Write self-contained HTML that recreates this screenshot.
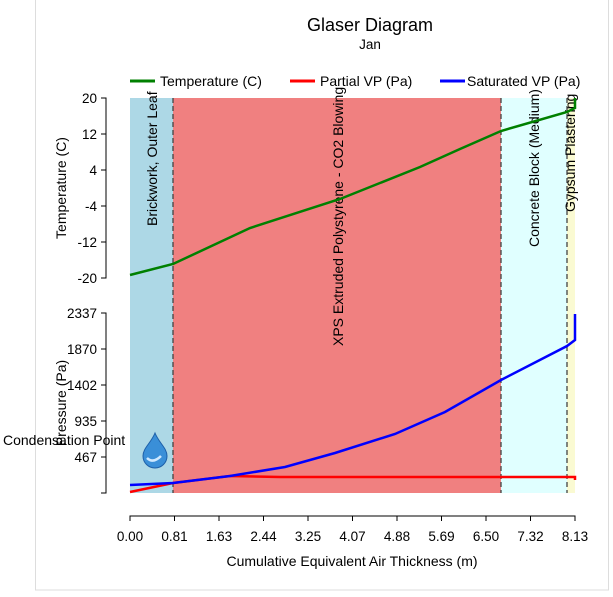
<!DOCTYPE html>
<html><head><meta charset="utf-8"><style>
body{margin:0;background:#fff}
text{font-family:"Liberation Sans",sans-serif;font-size:13.5px;fill:#000}
</style></head><body>
<svg width="613" height="592" xmlns="http://www.w3.org/2000/svg">
<rect x="35.5" y="-1" width="573" height="591" fill="#fff" stroke="#ddd"/>
<text x="370" y="31" text-anchor="middle" style="font-size:18px">Glaser Diagram</text>
<text x="370" y="49" text-anchor="middle">Jan</text>
<line x1="130" y1="81" x2="155" y2="81" stroke="#008000" stroke-width="3"/>
<text x="160" y="86" style="font-size:14px">Temperature (C)</text>
<line x1="290" y1="81" x2="315" y2="81" stroke="#f00" stroke-width="3"/>
<text x="320" y="86" style="font-size:14px">Partial VP (Pa)</text>
<line x1="440" y1="81" x2="465" y2="81" stroke="#00f" stroke-width="3"/>
<text x="467" y="86" style="font-size:14px">Saturated VP (Pa)</text>
<!-- layers -->
<rect x="130" y="98" width="43" height="395" fill="#ADD8E6"/>
<rect x="173" y="98" width="328" height="395" fill="#F08080"/>
<rect x="501" y="98" width="66" height="395" fill="#E0FFFF"/>
<rect x="567" y="98" width="8" height="395" fill="#FAFAD2"/>
<g stroke="#444" stroke-dasharray="5,3" stroke-width="1.3">
<line x1="173" y1="98" x2="173" y2="493"/><line x1="501" y1="98" x2="501" y2="493"/><line x1="567" y1="98" x2="567" y2="493"/>
</g>
<g style="font-size:14px">
<text transform="translate(157,226) rotate(-90)" style="font-size:14px">Brickwork, Outer Leaf</text>
<text transform="translate(343,346) rotate(-90)" style="font-size:14px">XPS Extruded Polystyrene - CO2 Blowing</text>
<text transform="translate(539,247) rotate(-90)" style="font-size:14px">Concrete Block (Medium)</text>
<text transform="translate(575,212) rotate(-90)" style="font-size:14px">Gypsum Plastering</text>
</g>
<!-- axes -->
<g stroke="#000" fill="none">
<path d="M101 98H106V278H101M101 134H106M101 170H106M101 206H106M101 242H106"/>
<path d="M101 313H106V493H101M101 349H106M101 385H106M101 421H106M101 457H106"/>
<path d="M130 521V516H575V521"/>
<path d="M174.5 516v5M219 516v5M263.5 516v5M308 516v5M352.5 516v5M397 516v5M441.5 516v5M486 516v5M530.5 516v5"/>
</g>
<g text-anchor="end">
<text x="97" y="103">20</text><text x="97" y="139">12</text><text x="97" y="175">4</text><text x="97" y="211">-4</text><text x="97" y="247">-12</text><text x="97" y="283">-20</text>
<text x="97" y="318">2337</text><text x="97" y="354">1870</text><text x="97" y="390">1402</text><text x="97" y="426">935</text><text x="97" y="462">467</text>
</g>
<g text-anchor="middle">
<text x="130" y="541">0.00</text><text x="174.5" y="541">0.81</text><text x="219" y="541">1.63</text><text x="263.5" y="541">2.44</text><text x="308" y="541">3.25</text><text x="352.5" y="541">4.07</text><text x="397" y="541">4.88</text><text x="441.5" y="541">5.69</text><text x="486" y="541">6.50</text><text x="530.5" y="541">7.32</text><text x="575" y="541">8.13</text>
<text x="352" y="566" style="font-size:14px">Cumulative Equivalent Air Thickness (m)</text>
</g>
<text transform="translate(66,188) rotate(-90)" text-anchor="middle" style="font-size:14px">Temperature (C)</text>
<text transform="translate(66,403) rotate(-90)" text-anchor="middle" style="font-size:14px">Pressure (Pa)</text>
<text x="3" y="445" style="font-size:14px">Condensation Point</text>
<!-- drop -->
<path d="M155 433 C151 443 143 448 143 456 A12 12 0 0 0 167 456 C167 448 159 443 155 433Z" fill="#3a8fd8" stroke="#1d5fa8"/>
<path d="M147 458 q6 6 14 -2" stroke="#cfe9ff" stroke-width="2.5" fill="none"/>
<!-- series -->
<polyline fill="none" stroke="#008000" stroke-width="2.5" points="130,275 173,264 250,228 340,199 420,167 460,149 501,131 567,112 575,108 575,98"/>
<polyline fill="none" stroke="#f00" stroke-width="2.5" points="130,492 173,483 230,476 280,477 575,477 575,480"/>
<polyline fill="none" stroke="#00f" stroke-width="2.5" points="130,485 173,483 230,476 285,467 335,453 395,434 445,412 501,380 567,346 575,340 575,314"/>
</svg>
</body></html>
